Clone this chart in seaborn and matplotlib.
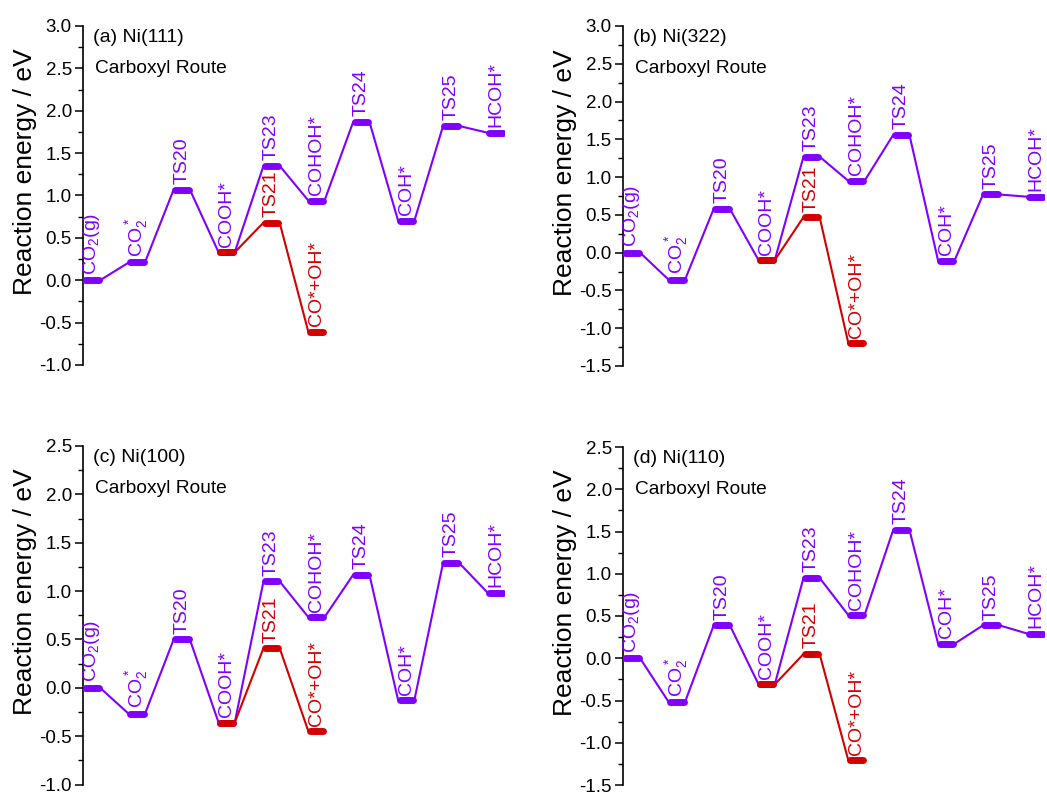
import matplotlib
matplotlib.use("Agg")
import matplotlib.pyplot as plt
import seaborn as sns
import pandas as pd
import numpy as np

sns.set_theme(style="white")
plt.rcParams['font.family'] = ['Liberation Sans', 'DejaVu Sans']
plt.rcParams['mathtext.default'] = 'regular'

# ---- data ----
main_states = ['CO$_2$(g)', 'CO$_2^*$', 'TS20', 'COOH*', 'TS23', 'COHOH*', 'TS24', 'COH*', 'TS25', 'HCOH*']
branch_states = ['COOH*', 'TS21', 'CO*+OH*']
branch_pos = [3, 4, 5]

panel_titles = ['(a) Ni(111)', '(b) Ni(322)', '(c) Ni(100)', '(d) Ni(110)']
route_label = 'Carboxyl Route'

e_a_main = [0.00, 0.21, 1.07, 0.33, 1.35, 0.94, 1.87, 0.70, 1.82, 1.74]
e_a_branch = [0.33, 0.68, -0.61]
e_b_main = [0.00, -0.36, 0.58, -0.10, 1.27, 0.95, 1.56, -0.11, 0.77, 0.74]
e_b_branch = [-0.10, 0.47, -1.20]
e_c_main = [0.00, -0.27, 0.50, -0.36, 1.10, 0.73, 1.17, -0.13, 1.29, 0.98]
e_c_branch = [-0.36, 0.41, -0.45]
e_d_main = [0.00, -0.52, 0.39, -0.31, 0.95, 0.51, 1.52, 0.17, 0.39, 0.29]
e_d_branch = [-0.31, 0.05, -1.21]

ylims = [(-1.0, 3.0), (-1.5, 3.0), (-1.0, 2.5), (-1.5, 2.5)]

PURPLE = '#8000FF'
RED = '#D40000'
HALF = 0.18

fig = plt.figure(figsize=(10.47, 7.94), dpi=100)
W, H = 1047, 794
rects = [
    (83, 26, 422, 339),
    (623, 26, 422, 340),
    (83, 446, 422, 338.5),
    (623, 447, 422, 338),
]


def path_df(pos, energies):
    xs, ys, order = [], [], []
    k = 0
    for p, e in zip(pos, energies):
        for dx in (-HALF, HALF):
            xs.append(p + dx)
            ys.append(e)
            order.append(k)
            k += 1
    return pd.DataFrame({'x': xs, 'y': ys, 'o': order})


panels = [
    (e_a_main, e_a_branch),
    (e_b_main, e_b_branch),
    (e_c_main, e_c_branch),
    (e_d_main, e_d_branch),
]

for idx, ((emain, ebranch), (lx, ty, w, h)) in enumerate(zip(panels, rects)):
    ax = fig.add_axes([lx / W, (H - ty - h) / H, w / W, h / H])
    mpos = list(range(len(main_states)))
    dfm = path_df(mpos, emain)
    dfb = path_df(branch_pos, ebranch)
    # connectors
    sns.lineplot(data=dfm, x='x', y='y', sort=False, estimator=None, color=PURPLE,
                 lw=1.5, ax=ax)
    sns.lineplot(data=dfb, x='x', y='y', sort=False, estimator=None, color=RED,
                 lw=1.5, ax=ax)
    # levels
    for p, e in zip(mpos, emain):
        ax.plot([p - HALF + 0.03, p + HALF - 0.03], [e, e], color=PURPLE, lw=5,
                solid_capstyle='round', zorder=3)
    for p, e in zip(branch_pos, ebranch):
        ax.plot([p - HALF + 0.03, p + HALF - 0.03], [e, e], color=RED, lw=5,
                solid_capstyle='round', zorder=4)
    # labels
    for p, e, s in zip(mpos, emain, main_states):
        ax.annotate(s, (p, e), xytext=(0, 4), textcoords='offset points', rotation=90,
                    ha='center', va='bottom', color=PURPLE, fontsize=14)
    for p, e, s in zip(branch_pos[1:], ebranch[1:], branch_states[1:]):
        ax.annotate(s, (p, e), xytext=(0, 4), textcoords='offset points', rotation=90,
                    ha='center', va='bottom', color=RED, fontsize=14)

    ax.set_xlim(-HALF - 0.02, len(main_states) - 1 + HALF + 0.02)
    ax.set_ylim(*ylims[idx])
    ax.set_yticks(np.arange(ylims[idx][0], ylims[idx][1] + 0.01, 0.5))
    ax.set_yticks(np.arange(ylims[idx][0], ylims[idx][1] + 0.01, 0.25), minor=True)
    ax.yaxis.set_major_formatter(matplotlib.ticker.FormatStrFormatter('%.1f'))
    ax.set_xticks([])
    ax.set_xlabel('')
    for sp in ['top', 'right', 'bottom']:
        ax.spines[sp].set_visible(False)
    ax.spines['left'].set_color('black')
    ax.spines['left'].set_linewidth(1.2)
    ax.tick_params(axis='y', which='major', direction='out', length=6, width=1.1,
                   labelsize=13.5, pad=2, left=True, colors='black')
    ax.tick_params(axis='y', which='minor', direction='out', length=3.5, width=1.0,
                   left=True, colors='black')
    ax.set_ylabel('Reaction energy / eV', fontsize=19, color='black')
    ax.yaxis.set_label_coords(-0.108, 0.57)
    ax.set_facecolor('white')
    ax.text(0.024, 0.965, panel_titles[idx], transform=ax.transAxes, fontsize=14,
            ha='left', va='center', color='black')
    ax.text(0.028, 0.875, route_label, transform=ax.transAxes, fontsize=13.8,
            ha='left', va='center', color='black')

fig.savefig('out.png', dpi=100, facecolor='white')
